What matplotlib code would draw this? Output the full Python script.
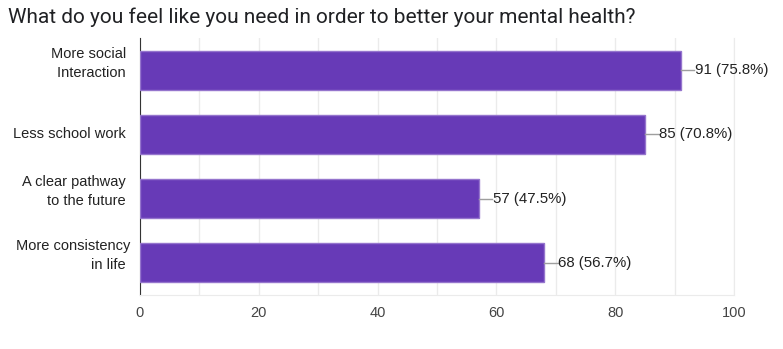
import matplotlib
matplotlib.use('Agg')
import matplotlib.pyplot as plt
import matplotlib.transforms as mtransforms
import numpy as np

title = 'What do you feel like you need in order to better your mental health?'
categories = ['More social \nInteraction ', 'Less school work ', 'A clear pathway \nto the future ', 'More consistency\nin life ']
counts = [91, 85, 57, 68]
percents = [75.8, 70.8, 47.5, 56.7]
xticks = [0, 20, 40, 60, 80, 100]

plt.rcParams['font.family'] = ['Liberation Sans', 'DejaVu Sans']

fig = plt.figure(figsize=(7.83, 3.49), dpi=100)
ax = fig.add_axes([140/783, 1-295/349, (734-140)/783, (295-38)/349])

y = np.arange(len(categories))
ax.barh(y, counts, height=0.61, color='#673ab7', edgecolor='#9575cd', linewidth=1, zorder=3)
ax.set_ylim(len(categories)-0.5, -0.5)
ax.set_xlim(0, 100)

# leader line + value label
for i in range(len(counts)):
    ax.plot([counts[i], counts[i]+2.3], [i, i], color='#9e9e9e', lw=1, zorder=3, clip_on=False)
    ax.text(counts[i]+2.4, i, '%d (%.1f%%)' % (counts[i], percents[i]), va='center', ha='left',
            fontsize=10.8, color='#222222')

# category labels drawn by hand; two-line ones sit above the bar centre
ax.set_yticks([])
trans = mtransforms.blended_transform_factory(ax.transAxes, ax.transData)
for i in range(len(categories)):
    dy = 7/100 if '\n' in categories[i] else 0
    t = trans + mtransforms.ScaledTranslation(-10/100, dy, fig.dpi_scale_trans)
    ax.text(0, i, categories[i], transform=t, ha='right', va='center', multialignment='right',
            fontsize=10.5, color='#222222', linespacing=1.45)

ax.set_xticks(xticks)
ax.set_xticklabels([str(v) for v in xticks], fontsize=10.5, color='#444444')
ax.set_xticks(np.arange(10, 100, 20), minor=True)
ax.grid(True, axis='x', which='both', color='#ebebeb', lw=1, zorder=0)
ax.tick_params(axis='both', which='both', length=0)
ax.tick_params(axis='x', pad=8)

ax.spines['top'].set_visible(False)
ax.spines['right'].set_color('#ebebeb')
ax.spines['bottom'].set_color('#ebebeb')
ax.spines['left'].set_color('#333333')

fig.text(8/783, 1-17/349, title, fontsize=15, family=['Roboto', 'DejaVu Sans'],
         color='#202124', va='center', ha='left')

fig.savefig('out.png', dpi=100)
